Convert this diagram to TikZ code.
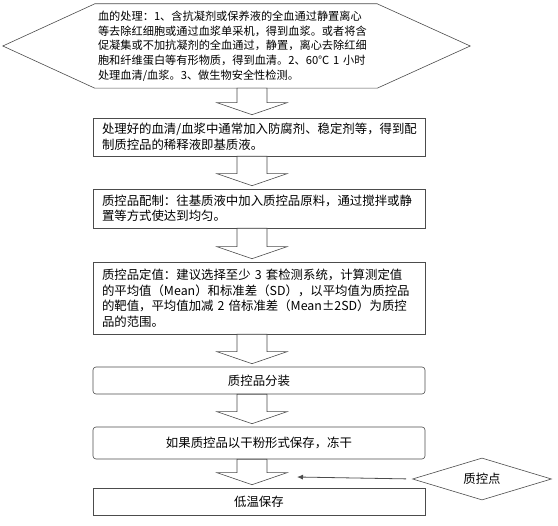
\documentclass[tikz,border=0pt]{standalone}
\usepackage{fontspec}
\newfontfamily\cjk{Noto Sans CJK SC}
\usepackage{tikz}
\usetikzlibrary{calc}
\usetikzlibrary{shapes.geometric}
\usetikzlibrary{arrows.meta}

\tikzset{
  stepbox/.style={draw=black!70, line width=0.6pt, text width=314pt, inner xsep=9pt, inner ysep=0pt,
    align=left, font=\cjk\fontsize{12.4pt}{15.5pt}\selectfont},
  shortbox/.style={stepbox, align=center, rounded corners=3pt},
  treattext/.style={text width=276pt, inner xsep=3pt, inner ysep=0pt, minimum height=84pt,
    align=left, font=\cjk\fontsize{11.2pt}{14.7pt}\selectfont},
  hollow/.style={draw=black!70, line width=0.6pt, fill=white},
  qcdiamond/.style={diamond, draw=black!70, line width=0.6pt, aspect=3.3, inner sep=0pt,
    minimum width=139pt, minimum height=42pt, font=\cjk\fontsize{12.4pt}{15pt}\selectfont},
  qcline/.style={draw=black!70, line width=0.8pt, shorten <=6pt, -{Latex[length=6pt,width=5pt]}},
}

% hollow block arrow from the bottom of #1 to the top of #2
\newcommand{\hollowdown}[2]{%
  \draw[hollow] (#1.south -| sl) -- ($(#2.north -| sl)+(0,-15)$)
    -- ($(#2.north -| hl)+(0,-15)$) -- ($(#2.north -| tip)+(0,-3)$)
    -- ($(#2.north -| hr)+(0,-15)$) -- ($(#2.north -| sr)+(0,-15)$)
    -- (#1.south -| sr) -- cycle;}

\begin{document}
\begin{tikzpicture}[x=1pt,y=-1pt]
    \useasboundingbox (0,0) rectangle (558,526);
    % columns of the block arrows
    \coordinate (hl) at (217,0);
    \coordinate (sl) at (237,0);
    \coordinate (tip) at (252,0);
    \coordinate (sr) at (267,0);
    \coordinate (hr) at (287,0);

    % blood treatment
    \node[treattext] (treat) at (236,46) {血的处理：1、含抗凝剂或保养液的全血通过静置离心\\
        等去除红细胞或通过血浆单采机，得到血浆。或者将含\\
        促凝集或不加抗凝剂的全血通过，静置，离心去除红细\\
        胞和纤维蛋白等有形物质，得到血清。2、60℃~1~小时\\
        处理血清/血浆。3、做生物安全性检测。};
    \draw[hollow, fill=none] ($(treat.west)+(-92,0)$) -- (treat.north west) -- (treat.north east)
        -- ($(treat.east)+(93,0)$) -- (treat.south east) -- (treat.south west) -- cycle;

    % steps
    \node[stepbox, minimum height=38pt] (matrix) at (259,137) {处理好的血清/血浆中通常加入防腐剂、稳定剂等，得到配\\
        制质控品的稀释液即基质液。};
    \node[stepbox, minimum height=39pt] (prep) at (259,208.5) {质控品配制：往基质液中加入质控品原料，通过搅拌或静\\
        置等方式使达到均匀。};
    \node[stepbox, minimum height=72pt] (value) at (259,298) {质控品定值：建议选择至少~3~套检测系统，计算测定值\\
        的平均值（Mean）和标准差（SD），以平均值为质控品\\
        的靶值，平均值加减~2~倍标准差（Mean±2SD）为质控\\
        品的范围。};
    \node[shortbox, minimum height=27pt] (split) at (259,380.5) {质控品分装};
    \node[shortbox, minimum height=32pt] (dry) at (259,443) {如果质控品以干粉形式保存，冻干};
    \node[stepbox, align=center, minimum height=27pt] (store) at (259,501.5) {低温保存};

    % arrows between steps
    \hollowdown{treat}{matrix}
    \hollowdown{matrix}{prep}
    \hollowdown{prep}{value}
    \hollowdown{value}{split}
    \hollowdown{split}{dry}
    \hollowdown{dry}{store}

    % quality control point
    \node[qcdiamond] (qc) at (482,479) {质控点};
    \coordinate (qchit) at (297,477);
    \draw[qcline] (qc.west) -- (qchit);
\end{tikzpicture}
\end{document}
